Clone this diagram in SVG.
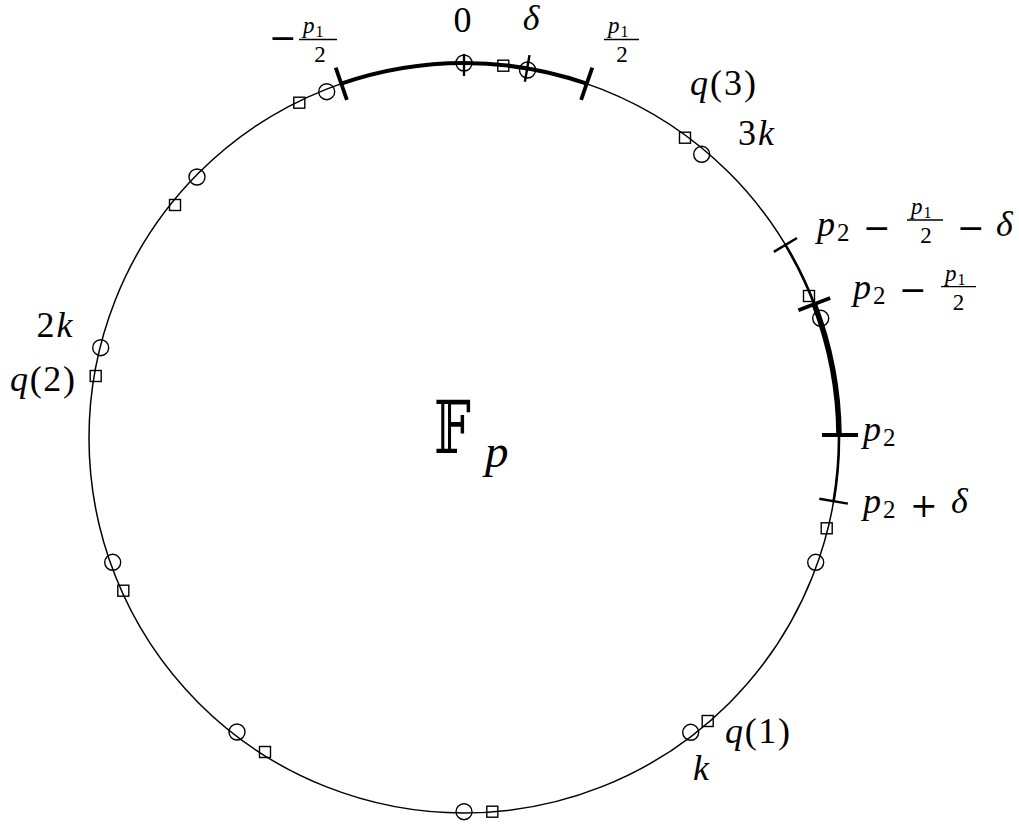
<svg xmlns="http://www.w3.org/2000/svg" width="1019" height="825" viewBox="0 0 1019 825">
<style>
.base{fill:none;stroke:#000;stroke-width:1.5}
.thick{fill:none;stroke:#000;stroke-width:4}
.med{fill:none;stroke:#000;stroke-width:2.6}
.vthick{fill:none;stroke:#000;stroke-width:5.5}
.tk{stroke:#000;stroke-width:3.8}
.tn{stroke:#000;stroke-width:2.4}
.c{fill:none;stroke:#000;stroke-width:1.4}
.s{fill:none;stroke:#000;stroke-width:1.4}
.bar{stroke:#000;stroke-width:1.3}
text{font-family:"Liberation Serif","DejaVu Serif",serif;fill:#000}
.m{font-size:36px}
.i{font-style:italic}
.f{font-size:23px}
.sub{font-size:25px;font-style:normal}
.fsub{font-size:16px;font-style:normal}
.op{font-family:"DejaVu Serif",serif;font-size:33px}
</style>
<rect width="1019" height="825" fill="#fff"/>
<g id="ring">
<circle class="base" cx="464" cy="438" r="375"/>
<path class="thick" d="M341.3,83.7 A375,375 0 0 1 586.7,83.7"/>
<path class="med" d="M785.4,244.9 A375,375 0 0 1 833.6,501.2"/>
<path class="vthick" d="M814.3,304.2 A375,375 0 0 1 839,434.7"/>
</g>
<g id="ticks">
<line class="tk" x1="335.7" y1="67.6" x2="346.9" y2="99.8"/>
<line class="tn" x1="464" y1="54" x2="464" y2="76"/>
<line class="tn" x1="529.5" y1="55.1" x2="524.9" y2="81.7"/>
<line class="tk" x1="592.3" y1="67.6" x2="581.1" y2="99.8"/>
<line class="tn" x1="797" y1="238" x2="773.8" y2="251.9"/>
<line class="tk" x1="830.2" y1="298.1" x2="798.4" y2="310.3"/>
<line class="tk" x1="858" y1="435" x2="822" y2="435"/>
<line class="tn" x1="847.9" y1="503.6" x2="819.3" y2="498.8"/>
</g>
<g id="multiples">
<circle class="c" cx="464" cy="63" r="8"/>
<circle class="c" cx="527.5" cy="70" r="8"/>
<circle class="c" cx="326.7" cy="91.7" r="8"/>
<circle class="c" cx="701.7" cy="154.3" r="8"/>
<circle class="c" cx="820.7" cy="318.3" r="8"/>
<circle class="c" cx="815.7" cy="562.3" r="8"/>
<circle class="c" cx="690.7" cy="732.3" r="8"/>
<circle class="c" cx="464" cy="811.7" r="8"/>
<circle class="c" cx="237" cy="732" r="8"/>
<circle class="c" cx="112.7" cy="562.3" r="8"/>
<circle class="c" cx="100.7" cy="347.7" r="8"/>
<circle class="c" cx="197" cy="177" r="8"/>
</g>
<g id="qvalues">
<rect class="s" x="497.8" y="60.2" width="11" height="11"/>
<rect class="s" x="293.8" y="97.2" width="11" height="11"/>
<rect class="s" x="679.5" y="132.2" width="11" height="11"/>
<rect class="s" x="803.5" y="290.5" width="11" height="11"/>
<rect class="s" x="821.2" y="522.8" width="11" height="11"/>
<rect class="s" x="702.2" y="715.5" width="11" height="11"/>
<rect class="s" x="486.8" y="806.2" width="11" height="11"/>
<rect class="s" x="259.5" y="746.5" width="11" height="11"/>
<rect class="s" x="117.8" y="585.2" width="11" height="11"/>
<rect class="s" x="90.2" y="370.5" width="11" height="11"/>
<rect class="s" x="169.5" y="199.5" width="11" height="11"/>
</g>
<g id="labels">
<text class="m" x="462.5" y="32" text-anchor="middle">0</text>
<text class="m i" x="531" y="30" text-anchor="middle">δ</text>
<g id="lab-neg-half">
<text class="op" x="269" y="48.5">−</text>
<text class="f i" x="303" y="33">p<tspan class="fsub" dx="1" dy="3.5">1</tspan></text>
<line class="bar" x1="299" y1="39.5" x2="337" y2="39.5"/>
<text class="f" x="320" y="62" text-anchor="middle">2</text>
</g>
<g id="lab-half">
<text class="f i" x="608" y="33">p<tspan class="fsub" dx="1" dy="3.5">1</tspan></text>
<line class="bar" x1="604" y1="39.5" x2="639" y2="39.5"/>
<text class="f" x="622" y="62" text-anchor="middle">2</text>
</g>
<text class="m" x="690" y="95" textLength="66" lengthAdjust="spacing"><tspan class="i">q</tspan>(3)</text>
<text class="m" x="738" y="145">3<tspan class="i" dx="2">k</tspan></text>
<g id="lab-p2-half-delta">
<text class="m i" x="817" y="236">p<tspan class="sub" dx="2" dy="5">2</tspan></text>
<text class="op" x="863" y="238.5">−</text>
<text class="f i" x="911" y="214">p<tspan class="fsub" dx="1" dy="3.5">1</tspan></text>
<line class="bar" x1="907" y1="220" x2="943" y2="220"/>
<text class="f" x="926" y="243" text-anchor="middle">2</text>
<text class="op" x="957" y="238.5">−</text>
<text class="m i" x="996" y="236">δ</text>
</g>
<g id="lab-p2-half">
<text class="m i" x="853" y="298.5">p<tspan class="sub" dx="2" dy="5">2</tspan></text>
<text class="op" x="899" y="300.5">−</text>
<text class="f i" x="945" y="281">p<tspan class="fsub" dx="1" dy="3.5">1</tspan></text>
<line class="bar" x1="941" y1="286.7" x2="976" y2="286.7"/>
<text class="f" x="958.5" y="309.5" text-anchor="middle">2</text>
</g>
<text class="m i" x="863" y="441">p<tspan class="sub" dx="2" dy="5">2</tspan></text>
<g id="lab-p2-delta">
<text class="m i" x="863" y="513">p<tspan class="sub" dx="2" dy="5">2</tspan></text>
<text class="op" x="910" y="516.5">+</text>
<text class="m i" x="951" y="513">δ</text>
</g>
<text class="m" x="36.5" y="336.7">2<tspan class="i" dx="2">k</tspan></text>
<text class="m" x="10" y="391" textLength="65" lengthAdjust="spacing"><tspan class="i">q</tspan>(2)</text>
<text class="m" x="725" y="743" textLength="65" lengthAdjust="spacing"><tspan class="i">q</tspan>(1)</text>
<text class="m i" x="693" y="780">k</text>
</g>
<g id="field">
<text transform="translate(434,453) scale(0.72,1)" font-size="72" font-family="DejaVu Serif,DejaVu Sans,serif">𝔽</text>
<text x="485" y="467" font-size="47" font-style="italic">p</text>
</g>
</svg>
